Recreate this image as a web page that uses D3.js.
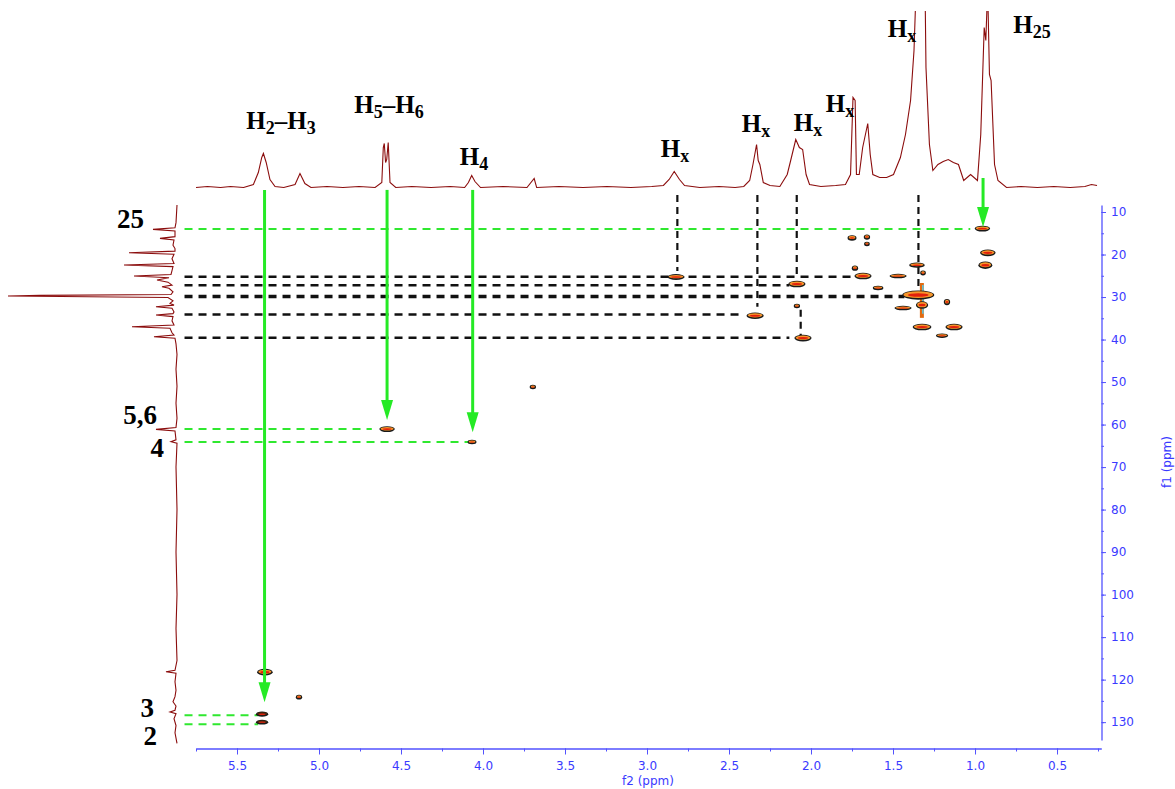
<!DOCTYPE html>
<html>
<head>
<meta charset="utf-8">
<script src="https://cdn.jsdelivr.net/npm/d3@7/dist/d3.min.js"></script>
<style>
  body { margin: 0; background: #fff; }
  svg { display: block; }
  .tick text { font-family: "DejaVu Sans", sans-serif; font-size: 12px; fill: #3a3aff; }
  .axis path, .axis line { stroke: #5252ff; }
  .lab { font-family: "Liberation Serif", "Times New Roman", serif; font-weight: bold; fill: #000; }
</style>
</head>
<body>
<div id="chart"></div>
<script>
// axis ticks
var f2Ticks = [5.75, 5.5, 5.25, 5.0, 4.75, 4.5, 4.25, 4.0, 3.75, 3.5, 3.25, 3.0, 2.75, 2.5, 2.25, 2.0, 1.75, 1.5, 1.25, 1.0, 0.75, 0.5, 0.25];
var f2Labels = [5.5, 5.0, 4.5, 4.0, 3.5, 3.0, 2.5, 2.0, 1.5, 1.0, 0.5];
var f1Ticks = [10, 15, 20, 25, 30, 35, 40, 45, 50, 55, 60, 65, 70, 75, 80, 85, 90, 95, 100, 105, 110, 115, 120, 125, 130];
var f1Labels = [10, 20, 30, 40, 50, 60, 70, 80, 90, 100, 110, 120, 130];

// 1H projection on top: [ppm, intensity]
var topTrace = [
  [5.75, 0], [5.68, 1], [5.60, 0], [5.54, 1], [5.46, 0], [5.40, 3], [5.37, 15], [5.349, 30], [5.339, 34], [5.322, 25],
  [5.299, 8], [5.268, 1], [5.215, 0], [5.146, 3], [5.116, 14], [5.086, 4], [5.049, 0], [4.951, 1], [4.854, 0], [4.756, 1],
  [4.658, 0], [4.617, 5], [4.608, 40], [4.602, 44], [4.594, 25], [4.587, 28], [4.578, 45], [4.567, 5], [4.532, 0], [4.434, 1],
  [4.317, 0], [4.20, 1], [4.112, 0], [4.089, 5], [4.069, 12], [4.049, 6], [4.015, 0], [3.878, 1], [3.732, 0], [3.688, 9],
  [3.673, 0], [3.537, 1], [3.39, 0], [3.244, 1], [3.098, 0], [2.971, 1], [2.90, 2], [2.865, 8], [2.834, 16], [2.802, 8],
  [2.771, 2], [2.678, 0], [2.561, 1], [2.463, 0], [2.41, 1], [2.374, 7], [2.354, 23], [2.332, 43], [2.322, 27], [2.312, 23],
  [2.291, 5], [2.25, 2], [2.19, 1], [2.145, 13], [2.124, 27], [2.093, 48], [2.071, 40], [2.051, 38], [2.030, 13], [2.009, 3],
  [1.94, 1], [1.85, 2], [1.790, 3], [1.759, 13], [1.744, 90], [1.731, 87], [1.723, 13], [1.706, 13], [1.685, 40], [1.654, 64],
  [1.639, 33], [1.623, 13], [1.581, 10], [1.539, 10], [1.497, 13], [1.455, 30], [1.424, 53], [1.393, 87], [1.372, 137], [1.347, 260],
  [1.309, 260], [1.299, 120], [1.278, 43], [1.257, 17], [1.226, 23], [1.194, 26], [1.163, 28], [1.132, 25], [1.101, 23], [1.069, 7],
  [1.027, 13], [0.985, 7], [0.965, 53], [0.944, 160], [0.934, 147], [0.923, 200], [0.912, 113], [0.902, 107], [0.881, 23], [0.860, 7],
  [0.808, 0], [0.72, 1], [0.62, 0], [0.52, 1], [0.42, 0], [0.33, 1], [0.29, 3], [0.256, 2]
];

// 13C projection on the left: [ppm, intensity]
var leftTrace = [
  [8.35, 0], [12.5, 1], [13.7, 2], [14.08, 24], [14.45, 2], [15.8, 2], [16.2, 17], [16.6, 3], [17.8, 4], [18.6, 2],
  [19.2, 2], [19.57, 48], [19.95, 3], [21.0, 5], [22.1, 3], [22.47, 53], [22.85, 4], [23.8, 5], [24.7, 6], [25.06, 43],
  [25.45, 8], [26.0, 20], [26.5, 9], [27.2, 5], [27.57, 15], [27.95, 8], [28.8, 4], [29.4, 6], [29.6, 137], [29.76, 169],
  [30.1, 9], [30.9, 4], [31.5, 7], [31.9, 3], [32.28, 21], [32.65, 5], [33.5, 3], [33.9, 4], [34.24, 21], [34.6, 4],
  [35.6, 5], [36.6, 3], [36.98, 45], [37.35, 7], [38.4, 5], [38.95, 3], [39.34, 23], [39.7, 2], [41.0, 1], [43.5, 0],
  [47.0, 1], [51.0, 0], [55.0, 1], [58.5, 0], [60.7, 1], [61.14, 21], [61.5, 2], [63.6, 1], [64.04, 6], [64.4, 0],
  [70.0, 1], [80.0, 0], [90.0, 1], [100.0, 0], [108.0, 1], [115.5, 0], [117.8, 2], [118.16, 11], [118.5, 1], [120.5, 2],
  [122.5, 1], [124.0, 2], [125.2, 4], [126.2, 1], [127.2, 2], [127.6, 7], [128.0, 1], [129.2, 3], [130.8, 1], [132.5, 2],
  [135.0, 0]
];

// HSQC cross peaks: [f2 ppm, f1 ppm, half width f2, half width f1]
var crossPeaks = [
  [0.955, 13.9, 0.04, 0.4], [1.75, 16.1, 0.02, 0.35], [1.659, 15.9, 0.012, 0.35], [1.659, 17.5, 0.01, 0.25],
  [0.922, 19.6, 0.04, 0.5], [0.937, 22.5, 0.035, 0.6], [1.732, 23.2, 0.012, 0.35], [1.354, 22.5, 0.04, 0.35],
  [1.317, 24.35, 0.01, 0.3], [1.683, 25.06, 0.045, 0.5], [1.469, 25.06, 0.045, 0.25], [2.086, 26.94, 0.045, 0.5],
  [1.591, 27.88, 0.025, 0.25], [1.346, 29.53, 0.09, 0.8], [1.323, 31.88, 0.03, 0.6], [1.171, 31.18, 0.012, 0.45],
  [1.439, 32.59, 0.045, 0.25], [2.086, 32.12, 0.012, 0.25], [2.341, 34.4, 0.045, 0.5], [1.323, 37.06, 0.05, 0.5],
  [1.128, 37.06, 0.045, 0.5], [2.049, 39.65, 0.045, 0.5], [1.201, 39.1, 0.03, 0.25], [2.823, 25.29, 0.045, 0.4],
  [3.696, 51.18, 0.012, 0.25], [4.585, 61.06, 0.04, 0.4], [4.067, 64.12, 0.02, 0.25], [5.33, 118.24, 0.04, 0.5],
  [5.122, 124.12, 0.012, 0.3], [5.347, 128.12, 0.03, 0.35], [5.347, 130.0, 0.03, 0.3]
];
// t1 streak through the CH2 envelope: [f2, f1 from, f1 to]
var streaks = [[1.324, 26.7, 34.9]];

// guides: horizontal [f1, f2 from, f2 to], vertical [f2, f1 from, f1 to]
var greenGuides = [[14.0, 5.82, 1.029], [61.06, 5.82, 4.678], [64.1, 5.82, 4.083], [128.35, 5.82, 5.371], [130.5, 5.82, 5.371]];
var blackGuidesH = [[25.2, 5.82, 1.732], [27.2, 5.82, 2.132], [29.9, 5.82, 1.431], [34.1, 5.82, 2.424], [39.6, 5.82, 2.132]];
var blackGuidesV = [[2.815, 6.0, 23.9], [2.327, 6.0, 32.3], [2.087, 6.0, 25.0], [1.345, 6.0, 28.3], [2.063, 33.0, 39.2]];
var greenArrows = [[5.332, 4.8, 125.3], [4.585, 4.8, 58.9], [4.063, 4.8, 61.8], [0.951, 2.0, 13.5]];

// assignments (even parts normal, odd parts subscript)
var topLabelText = [["H", "2", "\u2013H", "3"], ["H", "5", "\u2013H", "6"], ["H", "4"], ["H", "x"], ["H", "x"], ["H", "x"], ["H", "x"], ["H", "x"], ["H", "25"]];
var leftLabelText = ["25", "5,6", "4", "3", "2"];

// label layout in px: [centre x, baseline y] / [right x, baseline y]
var topLabelPos = [[281, 129], [389, 113], [474, 165], [675, 157], [756, 132], [808, 131], [840, 112], [902, 37], [1032, 33]];
var leftLabelPos = [[144, 228], [157, 424], [164, 457], [154, 717], [157, 745]];

var svgWidth = 1175;
var svgHeight = 789;

var svg = d3.select('#chart')
  .append('svg')
  .attr('width', svgWidth)
  .attr('height', svgHeight);

var x = d3.scaleLinear().domain([5.75, 0.23]).range([196, 1101.3]);
var y = d3.scaleLinear().domain([8.35, 134.2]).range([205, 740]);
var yTop = d3.scaleLinear().domain([0, 175]).range([187.5, 12.5]);
var xLeft = d3.scaleLinear().domain([0, 170]).range([177, 7]);

svg.append('defs').append('clipPath')
  .attr('id', 'topclip')
  .append('rect')
  .attr('x', 180).attr('y', 11).attr('width', 940).attr('height', 190);

// bottom axis: minor then labelled major ticks
var xMinor = svg.append('g')
  .attr('class', 'axis')
  .attr('transform', 'translate(0,748.5)')
  .call(d3.axisBottom(x).tickValues(f2Ticks).tickSize(3).tickSizeOuter(0).tickFormat(''));
var xMajor = svg.append('g')
  .attr('class', 'axis')
  .attr('transform', 'translate(0,748.5)')
  .call(d3.axisBottom(x).tickValues(f2Labels).tickSize(6).tickSizeOuter(0).tickPadding(7).tickFormat(d3.format('.1f')));
xMajor.select('.domain').remove();

// right axis
var yMinor = svg.append('g')
  .attr('class', 'axis')
  .attr('transform', 'translate(1101.5,0)')
  .call(d3.axisRight(y).tickValues(f1Ticks).tickSize(2.5).tickSizeOuter(0).tickFormat(''));
var yMajor = svg.append('g')
  .attr('class', 'axis')
  .attr('transform', 'translate(1101.5,0)')
  .call(d3.axisRight(y).tickValues(f1Labels).tickSize(4.5).tickSizeOuter(0).tickPadding(5).tickFormat(d3.format('d')));
yMajor.select('.domain').remove();
svg.selectAll('.axis .domain').attr('stroke-width', 1.3);

svg.append('text')
  .attr('x', 648).attr('y', 785)
  .attr('text-anchor', 'middle')
  .style('font-family', '"DejaVu Sans", sans-serif').style('font-size', '12px')
  .attr('fill', '#3a3aff')
  .text('f2 (ppm)');

svg.append('text')
  .attr('transform', 'translate(1171,462) rotate(-90)')
  .attr('text-anchor', 'middle')
  .style('font-family', '"DejaVu Sans", sans-serif').style('font-size', '12px')
  .attr('fill', '#3a3aff')
  .text('f1 (ppm)');

// guide lines
var guides = svg.append('g');
guides.selectAll('.gh')
  .data(greenGuides).enter().append('line')
  .attr('x1', d => x(d[1])).attr('x2', d => x(d[2]))
  .attr('y1', d => y(d[0])).attr('y2', d => y(d[0]))
  .attr('stroke', '#2fe82f').attr('stroke-width', 2).attr('stroke-dasharray', '8,6');

guides.selectAll('.bh')
  .data(blackGuidesH).enter().append('line')
  .attr('x1', d => x(d[1])).attr('x2', d => x(d[2]))
  .attr('y1', d => y(d[0])).attr('y2', d => y(d[0]))
  .attr('stroke', '#111').attr('stroke-width', (d, i) => i == 2 ? 3.5 : 2.5).attr('stroke-dasharray', '8,6');

guides.selectAll('.bv')
  .data(blackGuidesV).enter().append('line')
  .attr('x1', d => x(d[0])).attr('x2', d => x(d[0]))
  .attr('y1', d => y(d[1])).attr('y2', d => y(d[2]))
  .attr('stroke', '#111').attr('stroke-width', 2.2).attr('stroke-dasharray', '7,5');

// cross peaks
var peaks = svg.append('g');
peaks.selectAll('.streak')
  .data(streaks).enter().append('line')
  .attr('x1', d => x(d[0])).attr('x2', d => x(d[0]))
  .attr('y1', d => y(d[1])).attr('y2', d => y(d[2]))
  .attr('stroke', '#e06a10').attr('stroke-width', 4);
peaks.selectAll('.streak2')
  .data(streaks).enter().append('line')
  .attr('x1', d => x(d[0]) + 1).attr('x2', d => x(d[0]) + 1)
  .attr('y1', d => y(d[1]) + 2).attr('y2', d => y(d[2]) - 4)
  .attr('stroke', '#58c8e8').attr('stroke-width', 1.5);

peaks.selectAll('.pk-out')
  .data(crossPeaks).enter().append('ellipse')
  .attr('cx', d => x(d[0])).attr('cy', d => y(d[1]))
  .attr('rx', d => x(d[0] - d[2]) - x(d[0]) + 1.2)
  .attr('ry', d => y(d[1] + d[3]) - y(d[1]) + 1.2)
  .attr('fill', '#1a1a1a');
peaks.selectAll('.pk-mid')
  .data(crossPeaks).enter().append('ellipse')
  .attr('cx', d => x(d[0])).attr('cy', d => y(d[1]) - 0.4)
  .attr('rx', d => x(d[0] - d[2]) - x(d[0]))
  .attr('ry', d => y(d[1] + d[3]) - y(d[1]))
  .attr('fill', (d, i) => d[0] > 5.3 && d[1] > 125 ? '#4a2a10' : '#f7962a');
peaks.selectAll('.pk-in')
  .data(crossPeaks).enter().append('ellipse')
  .attr('cx', d => x(d[0])).attr('cy', d => y(d[1]))
  .attr('rx', d => (x(d[0] - d[2]) - x(d[0])) * 0.7)
  .attr('ry', d => (y(d[1] + d[3]) - y(d[1])) * 0.5)
  .attr('fill', '#e3200c');

// green arrows
var arrows = svg.append('g');
arrows.selectAll('line')
  .data(greenArrows).enter().append('line')
  .attr('x1', d => x(d[0])).attr('x2', d => x(d[0]))
  .attr('y1', d => y(d[1])).attr('y2', d => y(d[2]) - 12)
  .attr('stroke', '#25ea25').attr('stroke-width', 3);
arrows.selectAll('path')
  .data(greenArrows).enter().append('path')
  .attr('d', function(d) {
    var cx = x(d[0]), ty = y(d[2]);
    return 'M' + (cx - 6) + ',' + (ty - 20) + 'L' + (cx + 6) + ',' + (ty - 20) + 'L' + cx + ',' + ty + 'Z';
  })
  .attr('fill', '#25ea25');

// 1D projections
var topLine = d3.line().x(d => x(d[0])).y(d => yTop(d[1]));
svg.append('path')
  .attr('clip-path', 'url(#topclip)')
  .attr('d', topLine(topTrace))
  .attr('fill', 'none')
  .attr('stroke', '#8b0d0d')
  .attr('stroke-width', 1.1);

var leftLine = d3.line().x(d => xLeft(d[1])).y(d => y(d[0]));
svg.append('path')
  .attr('d', leftLine(leftTrace))
  .attr('fill', 'none')
  .attr('stroke', '#8b0d0d')
  .attr('stroke-width', 1.1);

// assignment labels
var topLabels = svg.selectAll('.toplab')
  .data(topLabelText).enter().append('text')
  .attr('class', 'lab')
  .attr('x', (d, i) => topLabelPos[i][0])
  .attr('y', (d, i) => topLabelPos[i][1])
  .attr('text-anchor', 'middle')
  .style('font-size', '25px');
topLabels.each(function(parts) {
  var t = d3.select(this);
  parts.forEach(function(p, j) {
    t.append('tspan')
      .attr('dy', j == 0 ? 0 : (j % 2 == 1 ? 5 : -5))
      .style('font-size', j % 2 == 1 ? '18px' : '25px')
      .text(p);
  });
});

svg.selectAll('.leftlab')
  .data(leftLabelText).enter().append('text')
  .attr('class', 'lab')
  .attr('x', (d, i) => leftLabelPos[i][0])
  .attr('y', (d, i) => leftLabelPos[i][1])
  .attr('text-anchor', 'end')
  .style('font-size', '27px')
  .text(d => d);
</script>
</body>
</html>
